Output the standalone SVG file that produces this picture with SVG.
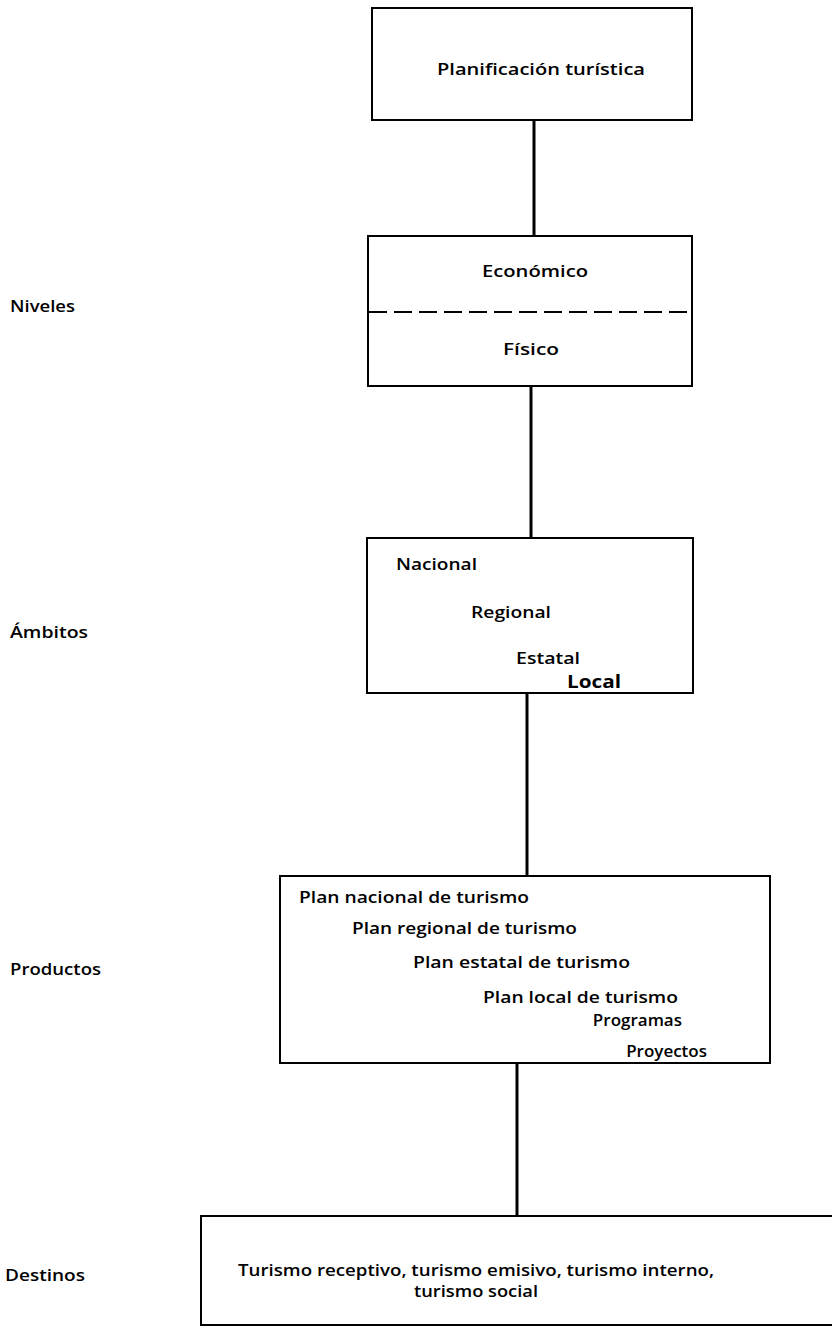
<svg xmlns="http://www.w3.org/2000/svg" width="832" height="1329" viewBox="0 0 832 1329">
<style>
.box{fill:none;stroke:#000;stroke-width:2}
.conn{stroke:#000;stroke-width:3;fill:none}
.dash{stroke:#000;stroke-width:1.8;stroke-dasharray:18 7;fill:none}
text{font-family:"Open Sans","DejaVu Sans","Liberation Sans",sans-serif;font-size:17px;font-weight:600;fill:#000}
.b{font-weight:700}
.e{text-anchor:end}
</style>
<rect width="832" height="1329" fill="#fff"/>
<g id="connectors">
<line class="conn" x1="534" y1="120" x2="534" y2="236"/>
<line class="conn" x1="531" y1="386" x2="531" y2="538"/>
<line class="conn" x1="527" y1="693" x2="527" y2="876"/>
<line class="conn" x1="517" y1="1063" x2="517" y2="1216"/>
</g>
<g id="label-niveles"><text x="10" y="312" textLength="65" lengthAdjust="spacingAndGlyphs">Niveles</text></g>
<g id="label-ambitos"><text x="10" y="638" textLength="78" lengthAdjust="spacingAndGlyphs">Ámbitos</text></g>
<g id="label-productos"><text x="10" y="975" textLength="91" lengthAdjust="spacingAndGlyphs">Productos</text></g>
<g id="label-destinos"><text x="5" y="1281" textLength="80" lengthAdjust="spacingAndGlyphs">Destinos</text></g>
<g id="node-planificacion">
<rect class="box" x="372" y="8" width="320" height="112"/>
<text x="437" y="75" textLength="208" lengthAdjust="spacingAndGlyphs">Planificación turística</text>
</g>
<g id="node-niveles">
<rect class="box" x="368" y="236" width="324" height="150"/>
<text x="482" y="277" textLength="106" lengthAdjust="spacingAndGlyphs">Económico</text>
<line class="dash" x1="369" y1="312" x2="691" y2="312"/>
<text x="503" y="355" textLength="56" lengthAdjust="spacingAndGlyphs">Físico</text>
</g>
<g id="node-ambitos">
<rect class="box" x="367" y="538" width="326" height="155"/>
<text x="396" y="570" textLength="81" lengthAdjust="spacingAndGlyphs">Nacional</text>
<text x="471" y="618" textLength="80" lengthAdjust="spacingAndGlyphs">Regional</text>
<text x="516" y="664" textLength="64" lengthAdjust="spacingAndGlyphs">Estatal</text>
<text class="b" x="567" y="688" textLength="54" lengthAdjust="spacingAndGlyphs">Local</text>
</g>
<g id="node-productos">
<rect class="box" x="280" y="876" width="490" height="187"/>
<text x="299" y="903" textLength="230" lengthAdjust="spacingAndGlyphs">Plan nacional de turismo</text>
<text x="352" y="934" textLength="225" lengthAdjust="spacingAndGlyphs">Plan regional de turismo</text>
<text x="413" y="968" textLength="217" lengthAdjust="spacingAndGlyphs">Plan estatal de turismo</text>
<text x="483" y="1003" textLength="195" lengthAdjust="spacingAndGlyphs">Plan local de turismo</text>
<text class="e" x="682" y="1026">Programas</text>
<text class="e" x="707" y="1057">Proyectos</text>
</g>
<g id="node-destinos">
<rect class="box" x="201" y="1216" width="640" height="109"/>
<text x="238" y="1276" textLength="476" lengthAdjust="spacingAndGlyphs">Turismo receptivo, turismo emisivo, turismo interno,</text>
<text x="414" y="1297" textLength="124" lengthAdjust="spacingAndGlyphs">turismo social</text>
</g>
</svg>
